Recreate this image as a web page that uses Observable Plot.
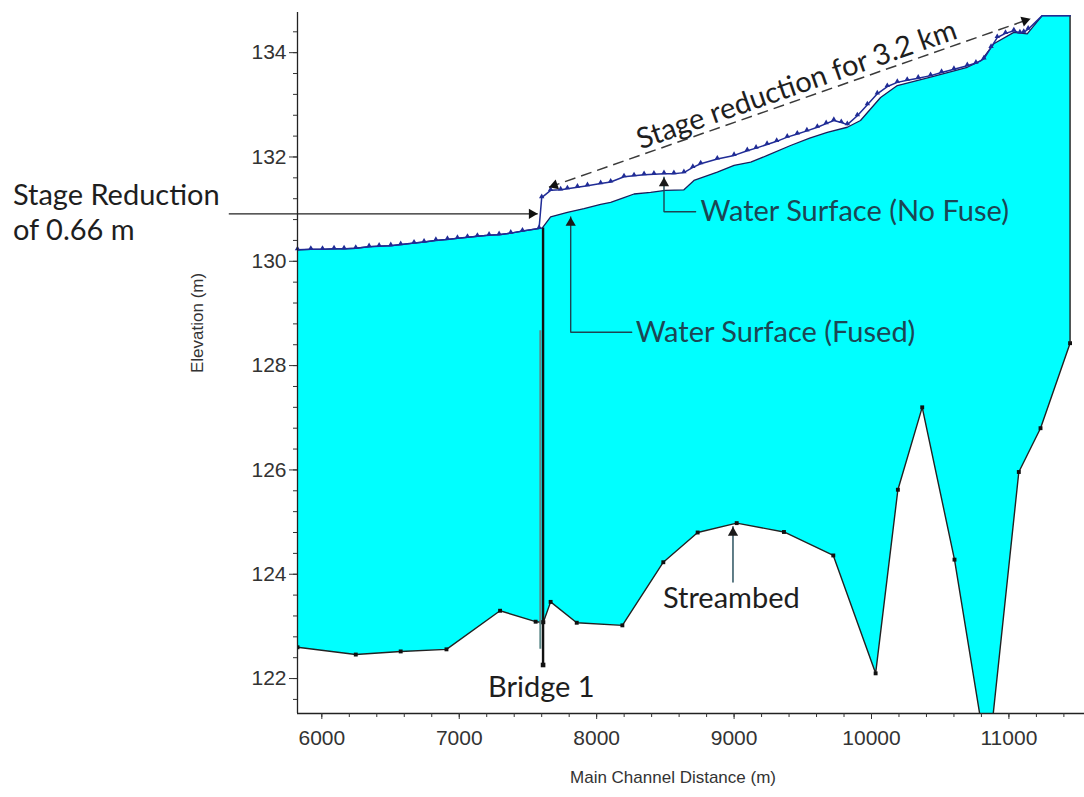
<!DOCTYPE html>
<html>
<head>
<meta charset="utf-8">
<script src="https://cdn.jsdelivr.net/npm/d3@7"></script>
<script src="https://cdn.jsdelivr.net/npm/@observablehq/plot@0.6"></script>
<style>
  html, body { margin: 0; padding: 0; background: #fff; }
  #chart svg { display: block; }
</style>
</head>
<body>
<div id="chart"></div>
<script>
// Main channel profile: streambed, fused and non-fused water surfaces around Bridge 1

// Water surface downstream of the bridge (both runs coincide here)
const downstreamStation   = [5823, 5920, 6005, 6089, 6162, 6247, 6344, 6417, 6502, 6574, 6671, 6744, 6830, 6914, 6987, 7060, 7132, 7217, 7290, 7375, 7460, 7581];
const downstreamElevation = [130.22, 130.23, 130.23, 130.24, 130.24, 130.25, 130.28, 130.29, 130.30, 130.32, 130.35, 130.37, 130.40, 130.42, 130.44, 130.46, 130.48, 130.50, 130.51, 130.54, 130.58, 130.63];

// Water surface upstream of the bridge, fused run
const fusedStation   = [7605, 7665, 7787, 7908, 8029, 8102, 8199, 8272, 8393, 8500, 8635, 8708, 8878, 9000, 9121, 9242, 9411, 9550, 9678, 9824, 9920, 10066, 10188, 10430, 10697, 10800, 10890, 11036, 11133, 11242, 11445];
const fusedElevation = [130.64, 130.85, 130.94, 131.01, 131.09, 131.13, 131.22, 131.29, 131.32, 131.36, 131.37, 131.55, 131.71, 131.84, 131.90, 132.03, 132.22, 132.36, 132.47, 132.57, 132.70, 133.14, 133.37, 133.53, 133.72, 133.85, 134.17, 134.39, 134.36, 134.71, 134.71];

// Water surface upstream of the bridge, run without fuse
const noFuseStation   = [7600, 7665, 7738, 7787, 7860, 7933, 8029, 8102, 8199, 8272, 8345, 8417, 8490, 8562, 8635, 8700, 8757, 8878, 9000, 9096, 9160, 9240, 9310, 9387, 9460, 9530, 9606, 9670, 9726, 9780, 9824, 9897, 9970, 10042, 10115, 10188, 10260, 10340, 10430, 10510, 10600, 10697, 10760, 10818, 10870, 10915, 10975, 11036, 11080, 11108, 11140, 11242, 11445];
const noFuseElevation = [131.22, 131.36, 131.37, 131.39, 131.42, 131.45, 131.49, 131.52, 131.62, 131.64, 131.66, 131.67, 131.68, 131.68, 131.70, 131.80, 131.87, 131.96, 132.03, 132.12, 132.17, 132.24, 132.30, 132.38, 132.44, 132.50, 132.57, 132.64, 132.70, 132.66, 132.62, 132.79, 133.00, 133.21, 133.35, 133.43, 133.47, 133.51, 133.56, 133.62, 133.68, 133.75, 133.80, 133.88, 134.10, 134.29, 134.37, 134.42, 134.38, 134.39, 134.45, 134.71, 134.71];

// Streambed (channel invert)
const bedStation   = [5823, 6247, 6574, 6907, 7297, 7556, 7600, 7612, 7665, 7855, 8187, 8485, 8735, 9019, 9363, 9722, 10030, 10192, 10369, 10604, 10847, 11072, 11230, 11445];
const bedElevation = [122.60, 122.46, 122.52, 122.56, 123.30, 123.09, 123.08, 123.08, 123.47, 123.07, 123.02, 124.23, 124.80, 124.98, 124.81, 124.36, 122.10, 125.62, 127.20, 124.28, 120.36, 125.96, 126.80, 128.43];

// Bridge 1 faces: station, low chord / foundation, top
const bridgeStation = [7590, 7610];
const bridgeLow     = [122.56, 122.26];
const bridgeHigh    = [128.67, 130.64];

// Axis ticks
const xTicks = [6000, 7000, 8000, 9000, 10000, 11000];
const yTicks = [122, 124, 126, 128, 130, 132, 134];
const xMinor = d3.range(30, 58).map(k => k * 200);
const yMinor = d3.range(304, 337).map(k => k * 0.4);

const X0 = 5823, X1 = 11550, Y0 = 121.33, Y1 = 134.77;

const zip = (s, e) => s.map((x, i) => ({x, y: e[i]}));
const downstream = zip(downstreamStation, downstreamElevation);
const fused = downstream.concat(zip(fusedStation, fusedElevation));
const noFuse = downstream.concat(zip(noFuseStation, noFuseElevation));
const bed = zip(bedStation, bedElevation);
const waterArea = fused.concat(bed.slice().reverse());
const bridge = bridgeStation.map((x, i) => ({x, y1: bridgeLow[i], y2: bridgeHigh[i]}));

// Annotation anchors (in data units: station m, elevation m)
const stageArrow = {x1: 5323, x2: 7571, y: 130.91};
const spanArrow = {x1: 7653, y1: 131.42, x2: 11157, y2: 134.65};
const noFuseLeader = [{x: 8490, y: 131.61}, {x: 8490, y: 130.95}, {x: 8720, y: 130.95}];
const fusedLeader = [{x: 7811, y: 130.85}, {x: 7811, y: 128.64}, {x: 8255, y: 128.64}];
const bedLeader = [{x: 8992, y: 124.91}, {x: 8992, y: 123.85}];

const notesStart = [
  {text: "Stage Reduction", x: 3752, y: 131.26, fill: "#1e1e1e"},
  {text: "of 0.66 m", x: 3752, y: 130.59, fill: "#1e1e1e"},
  {text: "Water Surface (No Fuse)", x: 8756, y: 130.95, fill: "#1c4654"},
  {text: "Water Surface (Fused)", x: 8284, y: 128.64, fill: "#1c4654"}
];
const notesMiddle = [
  {text: "Streambed", x: 8980, y: 123.54, fill: "#1e1e1e", rotate: 0},
  {text: "Bridge 1", x: 7597, y: 121.82, fill: "#1e1e1e", rotate: 0},
  {text: "Stage reduction for 3.2 km", x: 9455, y: 133.38, fill: "#1e1e1e", rotate: -19.3}
];

// filled arrowheads: tip position + heading (degrees clockwise from up)
const R = 3.8, TIP = 1.555 * R;
function head(x, y, angle, color) {
  const a = angle * Math.PI / 180;
  return Plot.dot([{x, y}], {
    x: "x", y: "y", symbol: "triangle", r: R, rotate: angle,
    fill: color, stroke: "none",
    dx: -TIP * Math.sin(a), dy: TIP * Math.cos(a)
  });
}

const annotationFont = "Lato, 'Open Sans', sans-serif";

const chart = Plot.plot({
  width: 1084,
  height: 797,
  marginLeft: 297,
  marginRight: 0,
  marginTop: 12,
  marginBottom: 84,
  x: {domain: [X0, X1], label: null},
  y: {domain: [Y0, Y1], label: null},
  style: {
    fontFamily: "'Liberation Sans', Arial, sans-serif",
    fontSize: "21px",
    color: "#262626",
    background: "#fff",
    overflow: "visible"
  },
  marks: [
    // water body between streambed and fused surface
    Plot.line(waterArea, {x: "x", y: "y", fill: "#00ffff", stroke: "none", clip: true}),
    // streambed
    Plot.line(bed, {x: "x", y: "y", stroke: "#222", strokeWidth: 1.4, clip: true}),
    Plot.dot(bed, {x: "x", y: "y", symbol: "square", r: 2.2, fill: "#111", clip: true}),
    // right boundary of the reach
    Plot.ruleX([bed[bed.length - 1]], {x: "x", y1: "y", y2: fusedElevation[fusedElevation.length - 1], stroke: "#222", strokeWidth: 1.4}),
    // bridge
    Plot.ruleX(bridge.slice(0, 1), {x: "x", y1: "y1", y2: "y2", stroke: "#5f8a8a", strokeWidth: 2}),
    Plot.ruleX(bridge.slice(1), {x: "x", y1: "y1", y2: "y2", stroke: "#111", strokeWidth: 2.4}),
    Plot.dot(bridge.slice(1), {x: "x", y: "y1", symbol: "square", r: 2.6, fill: "#111"}),
    // water surfaces
    Plot.line(fused, {x: "x", y: "y", stroke: "#1a1f5c", strokeWidth: 1.3}),
    Plot.line(noFuse, {x: "x", y: "y", stroke: "#202c96", strokeWidth: 1.5}),
    Plot.dot(noFuse.slice(0, -2), {x: "x", y: "y", symbol: "triangle", r: 2, fill: "#202c96", dy: -1}),

    // stage reduction pointer
    Plot.link([stageArrow], {x1: "x1", x2: "x2", y1: "y", y2: "y", stroke: "#222", strokeWidth: 1.4}),
    head(stageArrow.x2, stageArrow.y, 90, "#111"),
    // 3.2 km span arrow
    Plot.link([spanArrow], {x1: "x1", y1: "y1", x2: "x2", y2: "y2", stroke: "#3a3a3a", strokeWidth: 1.5, strokeDasharray: "11,6"}),
    head(spanArrow.x1, spanArrow.y1, 250.7, "#111"),
    head(spanArrow.x2, spanArrow.y2, 70.7, "#111"),
    // leaders
    Plot.line(noFuseLeader, {x: "x", y: "y", stroke: "#1c4654", strokeWidth: 1.4, strokeLinejoin: "miter"}),
    head(noFuseLeader[0].x, noFuseLeader[0].y, 0, "#1a1a1a"),
    Plot.line(fusedLeader, {x: "x", y: "y", stroke: "#1c4654", strokeWidth: 1.4, strokeLinejoin: "miter"}),
    head(fusedLeader[0].x, fusedLeader[0].y, 0, "#1a1a1a"),
    Plot.line(bedLeader, {x: "x", y: "y", stroke: "#1c4654", strokeWidth: 1.4}),
    head(bedLeader[0].x, bedLeader[0].y, 0, "#1a1a1a"),

    // annotation text
    Plot.text(notesStart, {x: "x", y: "y", text: "text", fill: "fill", textAnchor: "start", lineAnchor: "middle", fontSize: 29, fontFamily: annotationFont}),
    Plot.text(notesMiddle, {x: "x", y: "y", text: "text", fill: "fill", rotate: "rotate", textAnchor: "middle", lineAnchor: "middle", fontSize: 29, fontFamily: annotationFont}),

    // axes
    Plot.ruleX([X0], {stroke: "#222", strokeWidth: 1.3}),
    Plot.ruleY([Y0], {stroke: "#222", strokeWidth: 1.3}),
    Plot.axisX(xMinor, {tickSize: 4, tickFormat: () => "", stroke: "#333"}),
    Plot.axisX(xTicks, {tickSize: 6, tickPadding: 11, tickFormat: d => String(d), stroke: "#333", fill: "#333"}),
    Plot.axisY(yMinor, {tickSize: 4, tickFormat: () => "", stroke: "#333"}),
    Plot.axisY(yTicks, {tickSize: 8, tickPadding: 3, tickFormat: d => String(d), stroke: "#333", fill: "#333"}),
    Plot.text(["Main Channel Distance (m)"], {frameAnchor: "bottom", dy: 69, dx: -18, fontSize: 17, fill: "#333"}),
    Plot.text(["Elevation (m)"], {frameAnchor: "left", dx: -100, dy: 10, rotate: -90, fontSize: 17, fill: "#333"})
  ]
});

document.getElementById("chart").appendChild(chart);
</script>
</body>
</html>
